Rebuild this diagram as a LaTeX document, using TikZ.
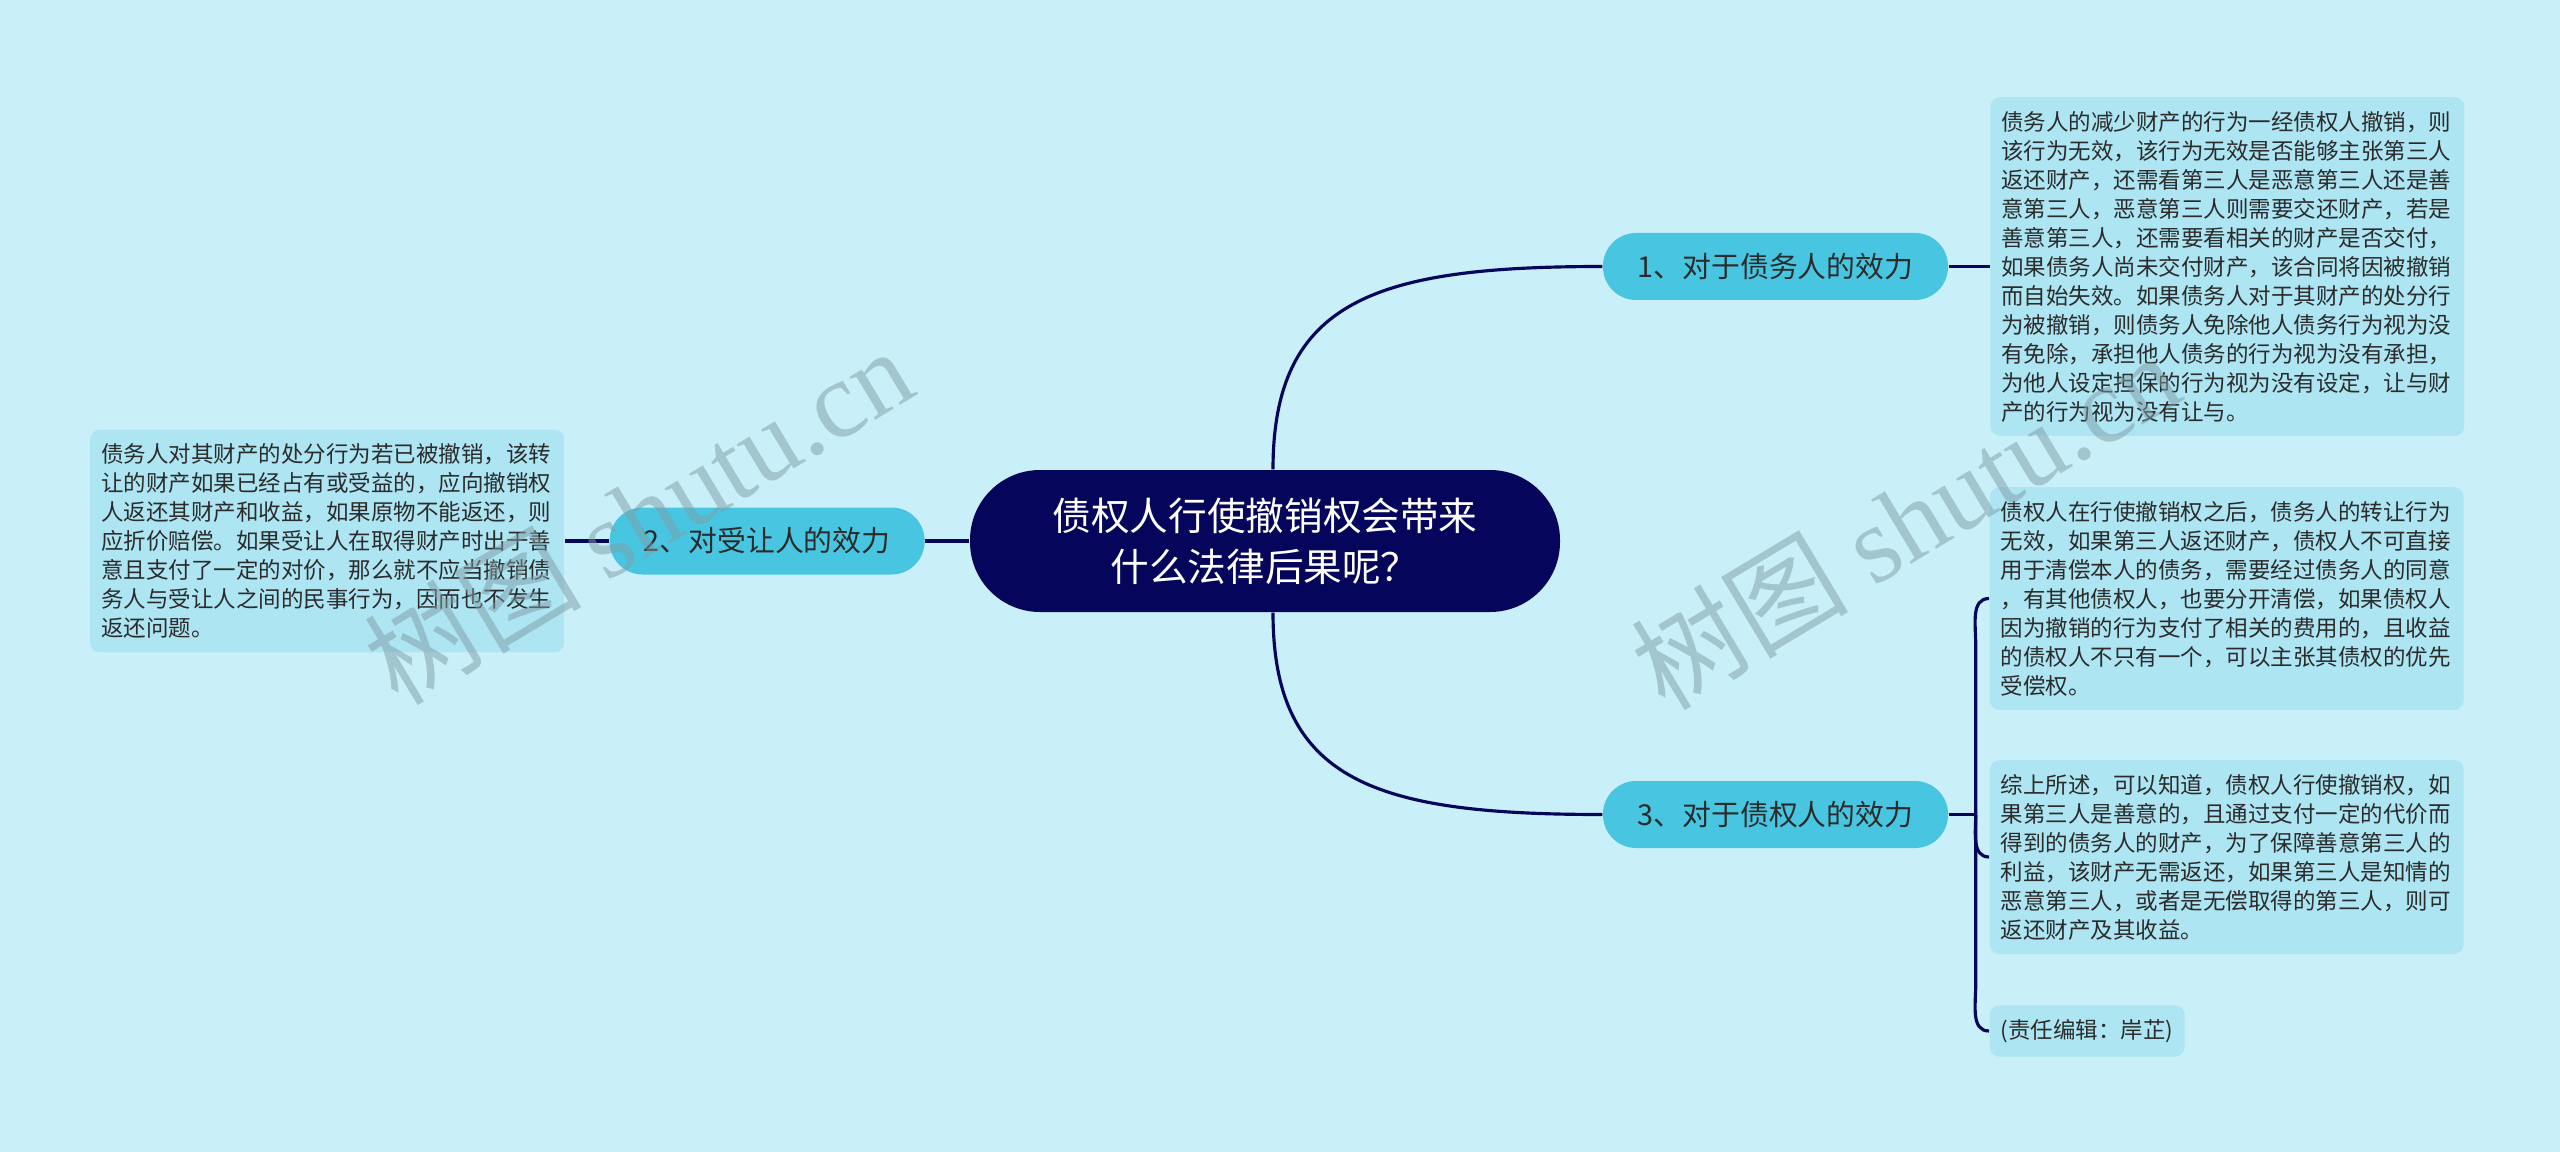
\documentclass[tikz,border=0pt]{standalone}
\usepackage{fontspec}
\setmainfont{Noto Sans CJK SC}
\newfontfamily\wmlatin{Liberation Serif}
\usetikzlibrary{positioning, calc}
\definecolor{bgcyan}{HTML}{C9F0F8}
\definecolor{boxcyan}{HTML}{ADE5F2}
\definecolor{branchcyan}{HTML}{48C6E1}
\definecolor{navy}{HTML}{05055B}
\definecolor{inkgray}{HTML}{2B2B2B}
\definecolor{wmgray}{HTML}{7E9DA5}

\begin{document}
\begin{tikzpicture}[
  root/.style={fill=navy, text=white, rounded corners=0.7cm,
               minimum width=5.9cm, minimum height=1.42cm,
               align=center, font=\fontsize{11}{14.5}\selectfont},
  branch/.style={fill=branchcyan, text=inkgray, rounded corners=0.33cm,
                 minimum width=3.45cm, minimum height=0.67cm,
                 font=\fontsize{8.2}{10}\selectfont},
  leafbox/.style={fill=boxcyan, text=inkgray, rounded corners=1mm,
                  inner xsep=0.11cm, inner ysep=0.14cm,
                  font=\fontsize{6.4}{8.25}\selectfont},
  leaf/.style={leafbox, text width=4.52cm, align=left},
  link/.style={draw=navy, line width=0.9pt},
  wmark/.style={text=wmgray, opacity=0.5, rotate=31,
                font=\fontsize{31}{31}\selectfont}
]
  \useasboundingbox (0,0) rectangle (25.6,-11.52);
  \fill[bgcyan] (0,0) rectangle (25.6,-11.52);

  \node[root] (root) at (12.65,-5.41) {债权人行使撤销权会带来\\什么法律后果呢？};
  \node[branch] (n1) at (17.755,-2.665) {1、对于债务人的效力};
  \node[branch, minimum width=3.15cm, left=0.44cm of root] (n2) {2、对受让人的效力};
  \node[branch] (n3) at (17.755,-8.145) {3、对于债权人的效力};

  \node[leaf, right=0.41cm of n1] (b1)
    {债务人的减少财产的行为一经债权人撤销，则\\
     该行为无效，该行为无效是否能够主张第三人\\
     返还财产，还需看第三人是恶意第三人还是善\\
     意第三人，恶意第三人则需要交还财产，若是\\
     善意第三人，还需要看相关的财产是否交付，\\
     如果债务人尚未交付财产，该合同将因被撤销\\
     而自始失效。如果债务人对于其财产的处分行\\
     为被撤销，则债务人免除他人债务行为视为没\\
     有免除，承担他人债务的行为视为没有承担，\\
     为他人设定担保的行为视为没有设定，让与财\\
     产的行为视为没有让与。};
  \node[leaf, left=0.44cm of n2] (lbox)
    {债务人对其财产的处分行为若已被撤销，该转\\
     让的财产如果已经占有或受益的，应向撤销权\\
     人返还其财产和收益，如果原物不能返还，则\\
     应折价赔偿。如果受让人在取得财产时出于善\\
     意且支付了一定的对价，那么就不应当撤销债\\
     务人与受让人之间的民事行为，因而也不发生\\
     返还问题。};
  \node[leaf, anchor=west] (b2) at (19.89,-5.985)
    {债权人在行使撤销权之后，债务人的转让行为\\
     无效，如果第三人返还财产，债权人不可直接\\
     用于清偿本人的债务，需要经过债务人的同意\\
     ，有其他债权人，也要分开清偿，如果债权人\\
     因为撤销的行为支付了相关的费用的，且收益\\
     的债权人不只有一个，可以主张其债权的优先\\
     受偿权。};
  \node[leaf, anchor=west] (b3) at (19.89,-8.57)
    {综上所述，可以知道，债权人行使撤销权，如\\
     果第三人是善意的，且通过支付一定的代价而\\
     得到的债务人的财产，为了保障善意第三人的\\
     利益，该财产无需返还，如果第三人是知情的\\
     恶意第三人，或者是无偿取得的第三人，则可\\
     返还财产及其收益。};
  \node[leafbox, anchor=west, minimum width=1.95cm, minimum height=0.48cm]
    (b4) at (19.89,-10.31) {(责任编辑：岸芷)};

  \draw[link] (root.west) -- (n2.east);
  \draw[link] (n2.west) -- (lbox.east);
  \draw[link] ([xshift=0.08cm]root.north) .. controls +(0,1.7) and +(-2.25,0) .. (n1.west);
  \draw[link] ([xshift=0.08cm]root.south) .. controls +(0,-1.7) and +(-2.25,0) .. (n3.west);
  \draw[link] (n1.east) -- (b1.west);
  \draw[link] (n3.east) -- ++(0.27,0) coordinate (fork);
  \draw[link] (fork) -- ($(fork |- b2.west)+(0,-0.45)$) to[out=90,in=180] (b2.west);
  \draw[link] (fork) to[out=-90,in=180] (b3.west);
  \draw[link] (fork) -- ($(fork |- b4.west)+(0,0.45)$) to[out=-90,in=180] (b4.west);

  \node[wmark] (wm1) at (6.38,-5.15) {树图 {\wmlatin shutu.cn}};
  \node[wmark] (wm2) at (19.05,-5.2) {树图 {\wmlatin shutu.cn}};
\end{tikzpicture}
\end{document}
